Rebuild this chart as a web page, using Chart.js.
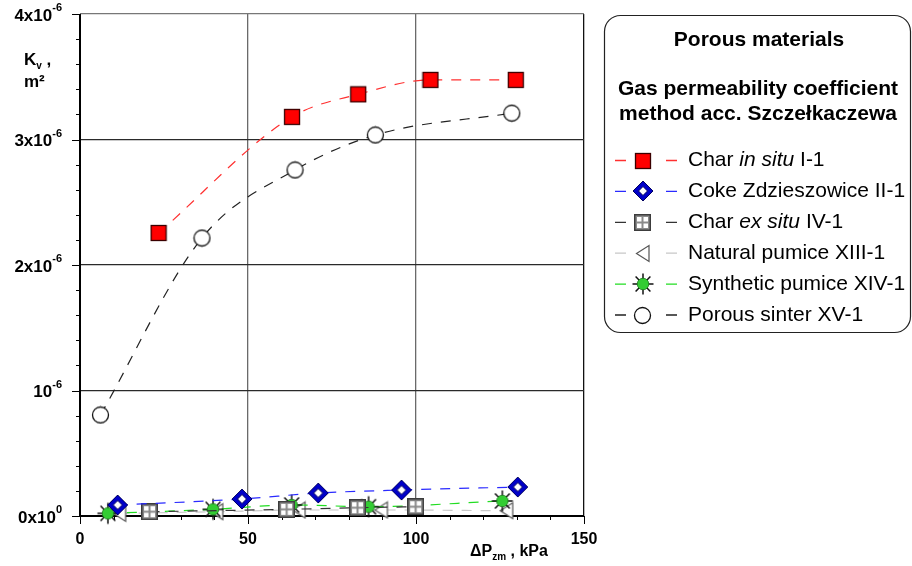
<!DOCTYPE html>
<html lang="en">
<head>
    <meta charset="utf-8">
    <title>Porous materials - gas permeability</title>
    <script src="https://cdn.jsdelivr.net/npm/chart.js@4.4.1/dist/chart.umd.min.js"></script>
    <style>
        body { margin: 0; background: #fff; }
    </style>
</head>
<body>
<canvas id="monGraphique" width="912" height="566"></canvas>

<script>
    // pressure difference (kPa) and permeability coefficient (x10^-6 m2) per material
    var charInSituX = [23.4, 63.1, 82.8, 104.3, 129.7];
    var charInSituY = [2.255, 3.18, 3.36, 3.475, 3.475];
    var cokeX = [11.2, 48.2, 70.9, 95.7, 130.3];
    var cokeY = [0.088, 0.135, 0.183, 0.207, 0.231];
    var charExSituX = [20.7, 61.5, 82.6, 99.9];
    var charExSituY = [0.034, 0.053, 0.066, 0.074];
    var naturalPumiceX = [11.8, 40.7, 65.2, 89.7, 127.0];
    var naturalPumiceY = [0.021, 0.034, 0.048, 0.048, 0.042];
    var syntheticPumiceX = [8.3, 39.6, 63.0, 85.9, 125.7];
    var syntheticPumiceY = [0.021, 0.053, 0.088, 0.074, 0.12];
    var sinterX = [6.1, 36.3, 64.0, 87.9, 128.5];
    var sinterY = [0.805, 2.215, 2.757, 3.036, 3.21];

    var seriesNames = ['Char in situ I-1', 'Coke Zdzieszowice II-1', 'Char ex situ IV-1',
        'Natural pumice XIII-1', 'Synthetic pumice XIV-1', 'Porous sinter XV-1'];
    var seriesItalic = ['in situ', '', 'ex situ', '', '', ''];

    var xTicks = [0, 50, 100, 150];
    var xTickLabels = ['0', '50', '100', '150'];
    var yTicks = [0, 1e-6, 2e-6, 3e-6, 4e-6];
    var yTickBase = ['0x10', '10', '2x10', '3x10', '4x10'];
    var yTickExp = ['0', '-6', '-6', '-6', '-6'];

    var legendTitle = 'Porous materials';
    var legendSub = ['Gas permeability coefficient', 'method acc. Szczełkaczewa'];

    var FONT = '"Liberation Sans", Arial, sans-serif';

    function points(xs, ys) {
        var out = [];
        for (var i = 0; i < xs.length; i++) {
            out.push({x: xs[i], y: ys[i] * 1e-6});
        }
        return out;
    }

    // little canvases used as point styles (and again in the legend)
    function marker(w, h, paint) {
        var c = document.createElement('canvas');
        c.width = w;
        c.height = h;
        paint(c.getContext('2d'), w, h);
        return c;
    }

    var mkSquare = marker(18, 18, function (g) {
        g.fillStyle = '#ff0000';
        g.fillRect(1, 1, 16, 16);
        g.strokeStyle = '#3a0000';
        g.lineWidth = 1.3;
        g.strokeRect(1.5, 1.5, 15, 15);
    });

    var mkDiamond = marker(22, 22, function (g) {
        function dia(r) {
            g.beginPath();
            g.moveTo(11, 11 - r);
            g.lineTo(11 + r, 11);
            g.lineTo(11, 11 + r);
            g.lineTo(11 - r, 11);
            g.closePath();
        }
        dia(10);
        g.fillStyle = '#0000c8';
        g.fill();
        g.strokeStyle = '#000060';
        g.lineWidth = 1;
        g.stroke();
        dia(4.5);
        g.fillStyle = '#ffffff';
        g.fill();
        g.stroke();
    });

    var mkGrid = marker(17, 17, function (g) {
        g.fillStyle = '#3c3c3c';
        g.fillRect(0, 0, 17, 17);
        g.fillStyle = '#8a8a8a';
        g.fillRect(1.5, 1.5, 14, 14);
        g.fillStyle = '#ffffff';
        g.fillRect(3, 3, 4.5, 4.5);
        g.fillRect(9.5, 3, 4.5, 4.5);
        g.fillRect(3, 9.5, 4.5, 4.5);
        g.fillRect(9.5, 9.5, 4.5, 4.5);
    });

    var mkTriangle = marker(16, 19, function (g) {
        g.beginPath();
        g.moveTo(1.5, 9.5);
        g.lineTo(14, 1.5);
        g.lineTo(14, 17.5);
        g.closePath();
        g.fillStyle = '#ffffff';
        g.fill();
        g.strokeStyle = '#555555';
        g.lineWidth = 1.2;
        g.stroke();
    });

    var mkStar = marker(24, 24, function (g) {
        g.strokeStyle = '#111111';
        g.lineWidth = 1.5;
        for (var k = 0; k < 8; k++) {
            var a = k * Math.PI / 4;
            g.beginPath();
            g.moveTo(12, 12);
            g.lineTo(12 + Math.cos(a) * 10.5, 12 + Math.sin(a) * 10.5);
            g.stroke();
        }
        g.beginPath();
        g.arc(12, 12, 5.8, 0, Math.PI * 2);
        g.fillStyle = '#33cc33';
        g.fill();
        g.strokeStyle = '#1a7a1a';
        g.lineWidth = 0.8;
        g.stroke();
    });

    var mkCircle = marker(19, 19, function (g) {
        g.beginPath();
        g.arc(9.5, 9.5, 8, 0, Math.PI * 2);
        g.fillStyle = '#ffffff';
        g.fill();
        g.strokeStyle = '#111111';
        g.lineWidth = 1.3;
        g.stroke();
    });

    function serie(label, xs, ys, color, style, order) {
        return {
            label: label,
            data: points(xs, ys),
            showLine: true,
            borderColor: color,
            backgroundColor: color,
            borderWidth: 1.2,
            borderDash: [10, 9],
            cubicInterpolationMode: 'monotone',
            pointStyle: style,
            pointRadius: 8,
            clip: false,
            order: order
        };
    }

    function drawSup(ctx, base, sup, xRight, y, size) {
        var fb = 'bold ' + size + 'px ' + FONT;
        var fs = 'bold ' + Math.round(size * 0.66) + 'px ' + FONT;
        ctx.font = fb;
        var wb = ctx.measureText(base).width;
        ctx.font = fs;
        var ws = ctx.measureText(sup).width;
        var x0 = xRight - wb - ws;
        ctx.textAlign = 'left';
        ctx.textBaseline = 'middle';
        ctx.font = fb;
        ctx.fillText(base, x0, y);
        ctx.font = fs;
        ctx.fillText(sup, x0 + wb, y - size * 0.45);
    }

    // writes a run of [text, font, dy] pieces one after the other
    function drawRun(ctx, pieces, x, y) {
        ctx.textAlign = 'left';
        ctx.textBaseline = 'alphabetic';
        pieces.forEach(function (p) {
            ctx.font = p[1];
            ctx.fillText(p[0], x, y + p[2]);
            x += ctx.measureText(p[0]).width;
        });
    }

    // axes, ticks, labels and the boxed legend
    var decor = {
        id: 'decor',
        beforeDatasetsDraw: function (chart) {
            var ctx = chart.ctx;
            var xs = chart.scales.x, ys = chart.scales.y;
            var a = chart.chartArea;
            ctx.save();
            ctx.strokeStyle = '#000';
            ctx.lineWidth = 1;
            for (var v = 0; v <= 150; v += 10) {
                var px = Math.round(xs.getPixelForValue(v)) + 0.5;
                ctx.beginPath();
                ctx.moveTo(px, a.bottom);
                ctx.lineTo(px, a.bottom + (v % 50 === 0 ? 8 : 4));
                ctx.stroke();
            }
            for (var k = 0; k <= 20; k++) {
                var py = Math.round(ys.getPixelForValue(k * 0.2e-6)) + 0.5;
                ctx.beginPath();
                ctx.moveTo(a.left - (k % 5 === 0 ? 8 : 4), py);
                ctx.lineTo(a.left, py);
                ctx.stroke();
            }
            ctx.lineWidth = 2;
            ctx.beginPath();
            ctx.moveTo(a.left, a.top);
            ctx.lineTo(a.left, a.bottom);
            ctx.lineTo(a.right, a.bottom);
            ctx.stroke();
            ctx.restore();
        },
        afterDraw: function (chart) {
            var ctx = chart.ctx;
            var xs = chart.scales.x, ys = chart.scales.y;
            ctx.save();
            ctx.fillStyle = '#000';

            ctx.font = 'bold 16px ' + FONT;
            ctx.textAlign = 'center';
            ctx.textBaseline = 'middle';
            xTicks.forEach(function (v, i) {
                ctx.fillText(xTickLabels[i], xs.getPixelForValue(v), 540);
            });
            yTicks.forEach(function (v, i) {
                drawSup(ctx, yTickBase[i], yTickExp[i], 62, ys.getPixelForValue(v) + 2, 17);
            });

            // y title: Kv , m2
            var big = 'bold 17px ' + FONT, small = 'bold 10px ' + FONT;
            drawRun(ctx, [['K', big, 0], ['v', small, 4], [' ,', big, 0]], 24, 65);
            drawRun(ctx, [['m²', big, 0]], 24, 87);

            // x title: ΔPzm , kPa
            var mid = 'bold 16px ' + FONT;
            drawRun(ctx, [['ΔP', mid, 0], ['zm', small, 4], [' , kPa', mid, 0]], 470, 556);

            // legend box
            ctx.beginPath();
            ctx.roundRect(604.5, 15.5, 306, 317, 16);
            ctx.fillStyle = '#fff';
            ctx.fill();
            ctx.strokeStyle = '#222';
            ctx.lineWidth = 1.2;
            ctx.stroke();

            ctx.fillStyle = '#000';
            ctx.textAlign = 'center';
            ctx.textBaseline = 'middle';
            ctx.font = 'bold 21px ' + FONT;
            ctx.fillText(legendTitle, 759, 40);
            ctx.fillText(legendSub[0], 758, 89);
            ctx.fillText(legendSub[1], 758, 114);

            chart.data.datasets.forEach(function (ds, i) {
                var y = 160.5 + i * 30.9;
                ctx.strokeStyle = ds.borderColor;
                ctx.lineWidth = 1.3;
                ctx.beginPath();
                ctx.moveTo(615, y);
                ctx.lineTo(626, y);
                ctx.moveTo(666, y);
                ctx.lineTo(677, y);
                ctx.stroke();
                var img = ds.pointStyle;
                ctx.drawImage(img, Math.round(642.5 - img.width / 2), Math.round(y - img.height / 2));

                ctx.fillStyle = '#000';
                ctx.textAlign = 'left';
                ctx.textBaseline = 'middle';
                var label = seriesNames[i];
                var it = seriesItalic[i];
                var x = 688;
                var parts = it ? [label.slice(0, label.indexOf(it)), it, label.slice(label.indexOf(it) + it.length)] : [label];
                parts.forEach(function (p, j) {
                    ctx.font = (j === 1 ? 'italic ' : '') + '21px ' + FONT;
                    ctx.fillText(p, x, y);
                    x += ctx.measureText(p).width;
                });
            });
            ctx.restore();
        }
    };

    var ctx = document.getElementById('monGraphique').getContext('2d');
    var chart = new Chart(ctx, {
        type: 'scatter',
        data: {
            datasets: [
                serie(seriesNames[0], charInSituX, charInSituY, '#ff3030', mkSquare, 1),
                serie(seriesNames[1], cokeX, cokeY, '#2a2aff', mkDiamond, 2),
                serie(seriesNames[2], charExSituX, charExSituY, '#333333', mkGrid, 4),
                serie(seriesNames[3], naturalPumiceX, naturalPumiceY, '#c8c8c8', mkTriangle, 6),
                serie(seriesNames[4], syntheticPumiceX, syntheticPumiceY, '#22dd22', mkStar, 5),
                serie(seriesNames[5], sinterX, sinterY, '#222222', mkCircle, 3)
            ]
        },
        options: {
            responsive: false,
            animation: false,
            events: [],
            layout: {padding: {left: 80, top: 14, right: 328, bottom: 50}},
            plugins: {legend: {display: false}, tooltip: {enabled: false}},
            scales: {
                x: {
                    type: 'linear',
                    min: 0,
                    max: 150,
                    ticks: {display: false, stepSize: 50},
                    border: {display: false},
                    grid: {
                        drawTicks: false,
                        lineWidth: 1.3,
                        color: function (c) {
                            if (c.tick.value === 0) return 'rgba(0,0,0,0)';
                            if (c.tick.value === 150) return '#111';
                            return '#6a6a6a';
                        }
                    }
                },
                y: {
                    type: 'linear',
                    min: 0,
                    max: 4e-6,
                    ticks: {display: false, stepSize: 1e-6},
                    border: {display: false},
                    grid: {
                        drawTicks: false,
                        lineWidth: 1.3,
                        color: function (c) {
                            if (c.tick.value === 0) return 'rgba(0,0,0,0)';
                            if (c.tick.value >= 4e-6) return '#777';
                            return '#2a2a2a';
                        }
                    }
                }
            }
        },
        plugins: [decor]
    });
</script>
</body>
</html>
